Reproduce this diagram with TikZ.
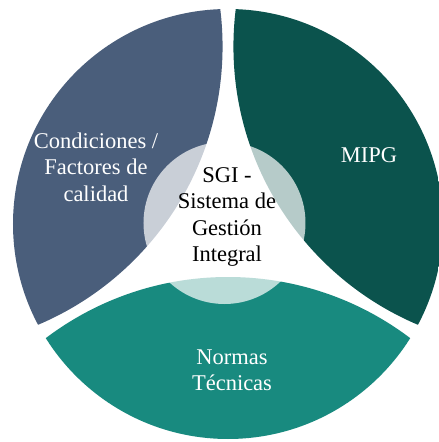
\documentclass[tikz,border=0pt]{standalone}
\usepackage{fontspec}
\setmainfont{Liberation Serif}
\usepackage{tikz}
\definecolor{condblock}{RGB}{74, 94, 123}
\definecolor{mipgblock}{RGB}{11, 83, 77}
\definecolor{normblock}{RGB}{24, 138, 127}

\begin{document}
\begin{tikzpicture}[x=1pt, y=1pt,
		lbl/.style={align=center, text=white, font=\fontsize{22.5}{26.5}\selectfont}]
		\useasboundingbox (-228,-218) rectangle (211,224);
		\coordinate (o) at (0,0);

		% condiciones / factores
		\begin{scope}
			\clip (o) circle (215);
			\fill[condblock] (150:355) circle (302);
		\end{scope}

		% mipg
		\begin{scope}
			\clip (o) circle (215);
			\fill[mipgblock] (30:355) circle (302);
		\end{scope}

		% normas
		\begin{scope}
			\clip (o) circle (215);
			\fill[normblock] (270:355) circle (302);
		\end{scope}

		% centre disc
		\fill[white, opacity=0.7] (-3.5,1) circle (81);

		\node[lbl] (cond) at (-132,57) {Condiciones /\\Factores de\\calidad};
		\node[lbl] (mipg) at (141,69) {MIPG};
		\node[lbl] (norm) at (4,-146) {Normas\\Técnicas};
		\node[lbl, text=black] (sgi) at (-1,7) {SGI -\\Sistema de\\Gestión\\Integral};
	\end{tikzpicture}
\end{document}
